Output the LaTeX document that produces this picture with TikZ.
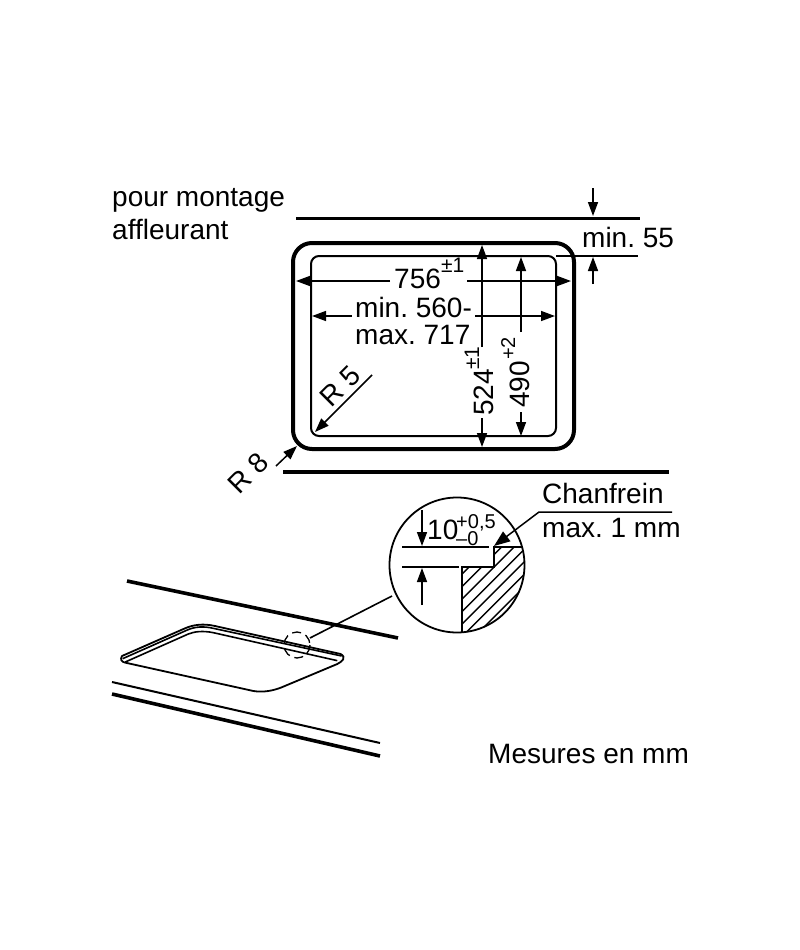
\documentclass[tikz,border=0pt]{standalone}
\usepackage{fontspec}
\setmainfont{Liberation Sans}
\usetikzlibrary{arrows.meta}
\frenchspacing
\tikzset{
  lbl/.style={inner sep=0pt,anchor=base west,text=black,font=\fontsize{28}{32}\selectfont},
  sup/.style={inner sep=0pt,anchor=base west,text=black,font=\fontsize{20}{22}\selectfont},
  heavy/.style={line width=3.6pt,draw=black},
  thin/.style={line width=1.6pt,draw=black},
  dim/.style={line width=1.5pt,draw=black,-{Triangle[length=14pt,width=10pt]}},
}
\begin{document}
\begin{tikzpicture}[x=1pt,y=-1pt]
\useasboundingbox (0,0) rectangle (800,950);
\fill[white] (0,0) rectangle (800,950);

% plan view
\draw[heavy] (296,218.5) -- (640,218.5);
\draw[heavy] (283,472) -- (669,472);
\draw[line width=4pt,draw=black,rounded corners=19pt] (293,243) rectangle (574,449);
\draw[line width=2pt,draw=black,rounded corners=8pt] (311,256) rectangle (556,436);
\draw[thin] (556,256) -- (638,256);

% texts
\node[lbl] (pm) at (112,206) {pour montage};
\node[lbl] (af) at (112,239) {affleurant};
\node[lbl] (m55) at (582,247) {min. 55};
\node[lbl] (v756) at (394,288) {756};
\node[sup,font=\fontsize{21}{22}\selectfont] (v756s) at (441,272) {±1};
\node[lbl] (m560) at (355,317) {min. 560-};
\node[lbl] (m717) at (355,344) {max. 717};
\node[lbl,rotate=45,anchor=center] (r5) at (340,386) {R 5};
\node[lbl,rotate=45,anchor=center] (r8) at (248,473) {R 8};
\node[lbl,rotate=90] (v524) at (493,416) {524};
\node[sup,rotate=90,font=\fontsize{21}{22}\selectfont] (v524s) at (479,370) {±1};
\node[lbl,rotate=90] (v490) at (529,408) {490};
\node[sup,rotate=90] (v490s) at (515,360) {+2};
\node[lbl] (ch) at (542,503) {Chanfrein};
\node[lbl] (mx) at (542,537) {max. 1 mm};
\node[lbl] (v10) at (427,539) {10};
\node[sup] (tp) at (456,528) {+0,5};
\node[sup] (tm) at (456,545) {–0};
\node[lbl] (mes) at (488,763) {Mesures en mm};

% dimension arrows
\draw[dim] (593,188) -- (593,216);
\draw[dim] (593,284) -- (593,257);
\draw[dim] (390,281) -- (296,281);
\draw[dim] (467,281) -- (571,281);
\draw[dim] (352,316) -- (312,316);
\draw[dim] (475,316) -- (555,316);
\draw[dim] (482,347) -- (482,245);
\draw[dim] (482,418) -- (482,447);
\draw[dim] (521,332) -- (521,257);
\draw[dim] (521,412) -- (521,436);
\draw[dim] (372,375) -- (315,432);
\draw[dim] (276,466) -- (297,446);

% detail circle
\begin{scope}
  \clip (457,565) circle (67.5);
  \clip (462,633) -- (462,567) -- (494,567) -- (494,547) -- (526,547) -- (526,633) -- cycle;
  \foreach \k in {0,...,12} {
    \draw[line width=1.4pt,draw=black] (396+\k*12.5,640) -- ++(100,-100);
  }
\end{scope}
\draw[line width=1.8pt,draw=black] (457,565) circle (67.5);
\draw[line width=1.8pt,draw=black] (462,632) -- (462,567) -- (494,567) -- (494,547) -- (522,547);
\draw[thin] (402,547) -- (489,547);
\draw[thin] (402,567) -- (459,567);
\draw[dim] (422,510) -- (422,546);
\draw[dim] (422,605) -- (422,568);
\draw[line width=1.5pt,draw=black,-{Triangle[length=16pt,width=12pt]}] (672,512) -- (539,512) -- (494,546);

% perspective view
\draw[heavy] (127,581) -- (398,638);
\draw[heavy] (112,694) -- (380,756);
\draw[line width=2pt,draw=black] (112,682) -- (380,743);
\draw[thin] (392,596) -- (310,638);
\draw[line width=1.3pt,draw=black,dash pattern=on 9pt off 5pt] (297,645) circle (13);
\begin{scope}[shift={(100,570)},x=0.3333pt,y=-0.3333pt]
  \draw[line width=1.8pt,draw=black,line join=round]
    (66,258) .. controls (60,268) and (64,276) .. (76,278) -- (460,363)
    .. controls (490,368) and (520,362) .. (545,352) -- (712,282)
    .. controls (728,274) and (740,262) .. (722,252) -- (345,168)
    .. controls (310,160) and (280,164) .. (255,175) -- cycle;
  \draw[line width=1.6pt,draw=black] (68,266) -- (262,180) .. controls (285,170) and (310,168) .. (340,175) -- (725,258);
  \draw[line width=1.6pt,draw=black] (76,276) -- (265,192) .. controls (285,184) and (310,182) .. (340,188) -- (712,272);
\end{scope}
\end{tikzpicture}
\end{document}
